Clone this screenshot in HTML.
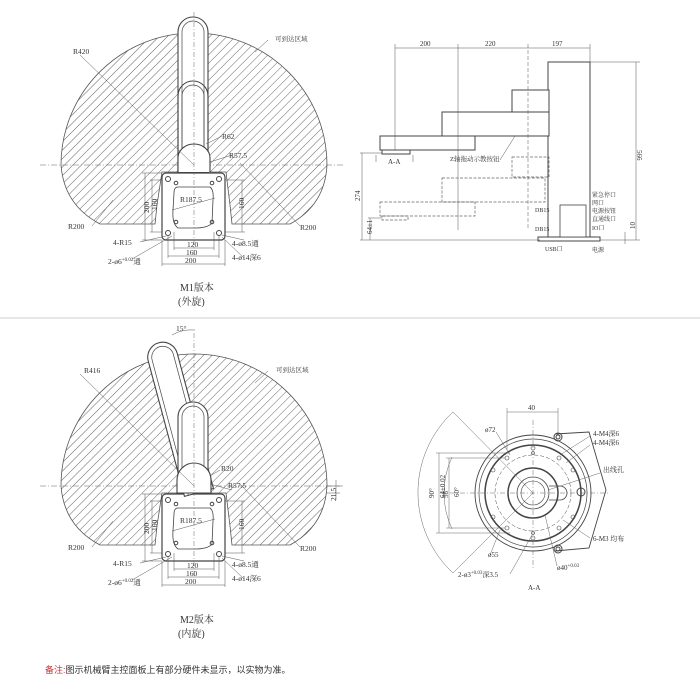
<!DOCTYPE html>
<html><head><meta charset="utf-8"><style>
html,body{margin:0;padding:0;background:#fff;}
svg{display:block;font-family:"Liberation Serif","Noto Serif CJK SC",serif;}
</style></head><body>
<svg width="700" height="698" viewBox="0 0 700 698" xmlns="http://www.w3.org/2000/svg">
<defs>
<pattern id="h" width="6" height="6" patternUnits="userSpaceOnUse" patternTransform="rotate(45)">
<rect width="6" height="6" fill="#fff"/><line x1="0" y1="0" x2="0" y2="6" stroke="#555" stroke-width="0.9"/></pattern>
<g id="zone">
<path d="M61,165 A133,132 0 0 1 327,165 Q325,205 290,224 L232,224 L230,205 L226,172 L162,172 L157,205 L155,224 L100,224 Q64,205 61,165 Z" fill="url(#h)" stroke="#555" stroke-width="0.8"/>
<line x1="40" y1="165" x2="345" y2="165" stroke="#666" stroke-width="0.6" stroke-dasharray="6,2,1,2"/>
<rect x="162" y="173" width="63" height="67" rx="4" fill="#fff" stroke="#444" stroke-width="1.2"/>
<path d="M178,187 L210,187 Q214,190 213,200 L212,223 Q208,228 195,228 L178,228 Q172,224 173,210 L174,193 Q174,187 178,187Z" fill="none" stroke="#444" stroke-width="0.8"/>
<circle cx="168" cy="179" r="2.5" fill="none" stroke="#444"/><circle cx="219" cy="179" r="2.5" fill="none" stroke="#444"/>
<circle cx="168" cy="233" r="2.5" fill="none" stroke="#444"/><circle cx="219" cy="233" r="2.5" fill="none" stroke="#444"/>
<circle cx="176" cy="183" r="1.8" fill="none" stroke="#444"/><circle cx="212" cy="183" r="1.8" fill="none" stroke="#444"/>
<circle cx="176" cy="222" r="1.8" fill="none" stroke="#444"/><circle cx="212" cy="222" r="1.8" fill="none" stroke="#444"/>
<line x1="194" y1="160" x2="194" y2="255" stroke="#666" stroke-width="0.5" stroke-dasharray="5,2,1,2"/>
<g stroke="#555" stroke-width="0.5" fill="none">
<line x1="142" y1="173" x2="162" y2="173"/><line x1="142" y1="240" x2="162" y2="240"/><line x1="145" y1="173" x2="145" y2="240"/>
<line x1="150" y1="180" x2="162" y2="180"/><line x1="150" y1="232" x2="162" y2="232"/><line x1="152" y1="180" x2="152" y2="232"/>
<line x1="225" y1="180" x2="245" y2="180"/><line x1="225" y1="232" x2="245" y2="232"/><line x1="242" y1="180" x2="242" y2="232"/>
<line x1="174" y1="232" x2="174" y2="250"/><line x1="214" y1="232" x2="214" y2="250"/><line x1="174" y1="248" x2="214" y2="248"/>
<line x1="168" y1="235" x2="168" y2="258"/><line x1="219" y1="235" x2="219" y2="258"/><line x1="168" y1="256" x2="219" y2="256"/>
<line x1="162" y1="240" x2="162" y2="266"/><line x1="225" y1="240" x2="225" y2="266"/><line x1="162" y1="264" x2="225" y2="264"/>
<line x1="172" y1="210" x2="215" y2="198"/>
<line x1="140" y1="242" x2="166" y2="236"/><line x1="132" y1="259" x2="172" y2="236"/>
<line x1="244" y1="240" x2="222" y2="235"/><line x1="244" y1="258" x2="222" y2="237"/>
<line x1="92" y1="226" x2="113" y2="200"/><line x1="300" y1="226" x2="240" y2="163"/>
</g>
<g font-size="7.5" fill="#333">
<text x="180" y="202">R187.5</text>
<text x="138" y="218" transform="rotate(-90 141 210)">200</text>
<text x="146" y="213" transform="rotate(-90 150 206)">160</text>
<text x="236" y="211" transform="rotate(-90 239 206)">160</text>
<text x="187" y="247">120</text><text x="186" y="255">160</text><text x="185" y="263">200</text>
<text x="113" y="245">4-R15</text>
<text x="232" y="246">4-ø8.5通</text><text x="232" y="260">4-ø14深6</text>
<text x="68" y="229">R200</text><text x="300" y="230">R200</text>
</g>
</g>
</defs>

<use href="#zone"/>
<g fill="#fff" stroke="#444" stroke-width="1.1">
<path d="M178,172 L178,32 A15,15 0 0 1 208,32 L208,172Z"/>
<path d="M182,172 L182,32 A11,11 0 0 1 204,32 L204,172" fill="none" stroke-width="0.7"/>
<path d="M178,172 L178,96 A15,15 0 0 1 208,96 L208,172" fill="none"/>
<path d="M182,172 L182,96 A11,11 0 0 1 204,96 L204,172" fill="none" stroke-width="0.7"/>
<path d="M178,172 L178,158 A16,14 0 0 1 210,158 L210,172" fill="#fff"/>
<line x1="194" y1="12" x2="194" y2="172" stroke="#666" stroke-width="0.5" stroke-dasharray="5,2,1,2"/>
</g>
<g stroke="#555" stroke-width="0.5"><line x1="80" y1="55" x2="194" y2="165"/><line x1="206" y1="144" x2="222" y2="136"/><line x1="210" y1="162" x2="232" y2="155"/><line x1="268" y1="40" x2="255" y2="52"/></g>
<g font-size="7.5" fill="#333"><text x="73" y="54">R420</text><text x="222" y="139">R62</text><text x="229" y="158">R57.5</text><text x="275" y="41" font-size="6.5">可到达区域</text>
<text x="108" y="264">2-ø6<tspan font-size="5" dy="-3">+0.02</tspan><tspan dy="3">通</tspan></text>
<text x="180" y="291" font-size="10">M1版本</text><text x="178" y="305" font-size="10">(外旋)</text></g>

<line x1="0" y1="318" x2="700" y2="318" stroke="#bbb" stroke-width="0.8"/>

<use href="#zone" transform="translate(0,321)"/>
<g fill="#fff" stroke="#444" stroke-width="1.1">
<g transform="rotate(-15 194 470)"><path d="M178,493 L178,353 A15,15 0 0 1 208,353 L208,493Z"/><path d="M182,493 L182,353 A11,11 0 0 1 204,353 L204,493" fill="none" stroke-width="0.7"/></g>
<path d="M178,493 L178,417 A15,15 0 0 1 208,417 L208,493Z"/>
<path d="M182,493 L182,417 A11,11 0 0 1 204,417 L204,493" fill="none" stroke-width="0.7"/>
<path d="M177,493 L177,480 A17,17 0 0 1 211,480 L211,493Z"/>
<line x1="194" y1="333" x2="194" y2="493" stroke="#666" stroke-width="0.5" stroke-dasharray="5,2,1,2"/>
</g>
<g stroke="#555" stroke-width="0.5" fill="none"><path d="M172,335 Q182,329 195,330"/><line x1="80" y1="374" x2="194" y2="486"/><line x1="210" y1="476" x2="220" y2="470"/><line x1="210" y1="484" x2="232" y2="490"/><line x1="268" y1="371" x2="255" y2="383"/>
<line x1="326" y1="486" x2="340" y2="486"/><line x1="326" y1="493" x2="340" y2="493"/><line x1="336" y1="480" x2="336" y2="500"/></g>
<g font-size="7.5" fill="#333"><text x="176" y="331">15°</text><text x="84" y="373">R416</text><text x="221" y="471">R20</text><text x="228" y="488">R57.5</text><text x="276" y="372" font-size="6.5">可到达区域</text>
<text x="340" y="505" transform="rotate(-90 336 505)">21.5</text>
<text x="108" y="585">2-ø6<tspan font-size="5" dy="-3">+0.02</tspan><tspan dy="3">通</tspan></text>
<text x="180" y="623" font-size="10">M2版本</text><text x="178" y="637" font-size="10">(内旋)</text></g>

<g stroke="#444" stroke-width="1" fill="#fff">
<rect x="548" y="62" width="42" height="176"/>
<rect x="512" y="90" width="37" height="22"/>
<rect x="442" y="112" width="107" height="24"/>
<rect x="380" y="136" width="95" height="14"/>
<rect x="382" y="150" width="28" height="4"/>
<rect x="538" y="237" width="62" height="4"/>
<rect x="560" y="205" width="26" height="32" stroke-width="0.8"/>
</g>
<g stroke="#666" stroke-width="0.7" fill="none" stroke-dasharray="3,1.5">
<rect x="512" y="157" width="37" height="20"/><rect x="442" y="178" width="103" height="24"/><rect x="380" y="202" width="95" height="14"/><rect x="382" y="216" width="26" height="4"/>
</g>
<g stroke="#555" stroke-width="0.5" fill="none">
<line x1="395" y1="44" x2="395" y2="150"/><line x1="458" y1="44" x2="458" y2="230"/><line x1="528" y1="44" x2="528" y2="230" stroke-dasharray="4,2"/><line x1="590" y1="44" x2="590" y2="62"/>
<line x1="395" y1="48" x2="590" y2="48"/>
<line x1="590" y1="62" x2="640" y2="62"/><line x1="600" y1="240" x2="640" y2="240"/><line x1="636" y1="62" x2="636" y2="240"/>
<line x1="360" y1="153" x2="382" y2="153"/><line x1="362" y1="153" x2="362" y2="240"/><line x1="360" y1="240" x2="540" y2="240"/>
<line x1="368" y1="218" x2="382" y2="218"/><line x1="370" y1="218" x2="370" y2="240"/>
<line x1="625" y1="232" x2="625" y2="244"/>
<path d="M376,155 L376,162 M413,155 L413,162"/>
<line x1="500" y1="160" x2="515" y2="136"/>
</g>
<g font-size="7" fill="#333">
<text x="420" y="46">200</text><text x="485" y="46">220</text><text x="552" y="46">197</text>
<text x="642" y="155" transform="rotate(90 642 150)">566</text>
<text x="352" y="203" transform="rotate(-90 355 198)">274</text>
<text x="362" y="236" transform="rotate(-90 366 230)">64±1</text>
<text x="628" y="230" transform="rotate(-90 631 226)">10</text>
<text x="388" y="164">A-A</text>
<text x="450" y="161" font-size="6.5">Z轴拖动示教按钮</text>
<text x="535" y="212" font-size="6">DB15</text><text x="535" y="231" font-size="6">DB15</text><text x="545" y="251" font-size="6">USB口</text>
<text x="592" y="197" font-size="6">紧急停口</text><text x="592" y="205" font-size="6">网口</text><text x="592" y="213" font-size="6">电源按钮</text><text x="592" y="221" font-size="6">直通线口</text><text x="592" y="230" font-size="6">IO口</text><text x="592" y="252" font-size="6">电源</text>
</g>

<g stroke="#444" fill="none">
<path d="M555,434 L589,432 L606,490 L589,548 L555,551" stroke-width="0.9"/>
<circle cx="533" cy="493" r="58" fill="#fff" stroke-width="0.9"/>
<circle cx="533" cy="493" r="54" stroke-width="0.7"/>
<circle cx="533" cy="493" r="48" stroke-width="1.5"/>
<circle cx="533" cy="493" r="38" stroke-width="0.5" stroke-dasharray="4,2"/>
<circle cx="533" cy="493" r="25" stroke-width="1.5"/>
<circle cx="533" cy="493" r="16" stroke-width="0.8"/>
<circle cx="533" cy="493" r="12" stroke-width="0.6"/>
<path d="M549,486 L560,486 A7,7 0 0 1 560,500 L549,500" stroke-width="0.8"/>
<circle cx="558" cy="437" r="4"/><circle cx="558" cy="437" r="2"/>
<circle cx="558" cy="549" r="4"/><circle cx="558" cy="549" r="2"/>
<circle cx="581" cy="492" r="4"/>
<g stroke-width="0.6"><circle cx="533" cy="448" r="2"/><circle cx="533" cy="538" r="2"/><circle cx="507" cy="458" r="2"/><circle cx="559" cy="458" r="2"/><circle cx="507" cy="528" r="2"/><circle cx="559" cy="528" r="2"/><circle cx="493" cy="470" r="2"/><circle cx="573" cy="470" r="2"/><circle cx="493" cy="517" r="2"/><circle cx="573" cy="517" r="2"/><circle cx="533" cy="453" r="1.5"/><circle cx="533" cy="533" r="1.5"/></g>
</g>
<g stroke="#666" stroke-width="0.5" fill="none">
<line x1="440" y1="493" x2="610" y2="493" stroke-dasharray="5,2,1,2"/><line x1="533" y1="420" x2="533" y2="570" stroke-dasharray="5,2,1,2"/>
<line x1="507" y1="408" x2="507" y2="450"/><line x1="558" y1="408" x2="558" y2="435"/><line x1="507" y1="412" x2="558" y2="412"/>
<line x1="436" y1="453" x2="510" y2="453"/><line x1="436" y1="533" x2="510" y2="533"/><line x1="439" y1="453" x2="439" y2="533"/>
<line x1="446" y1="458" x2="505" y2="458"/><line x1="446" y1="528" x2="505" y2="528"/><line x1="449" y1="458" x2="449" y2="528"/>
<path d="M452,457 A85,85 0 0 0 452,529"/>
<path d="M453,412 A110,110 0 0 0 453,573"/><line x1="453" y1="412" x2="533" y2="493"/><line x1="453" y1="573" x2="533" y2="493"/>
<line x1="590" y1="436" x2="560" y2="455"/><line x1="590" y1="445" x2="566" y2="463"/><line x1="600" y1="473" x2="548" y2="490"/><line x1="590" y1="538" x2="563" y2="520"/>
<line x1="490" y1="555" x2="500" y2="530"/><line x1="510" y1="574" x2="532" y2="535"/><line x1="557" y1="566" x2="545" y2="515"/><line x1="496" y1="432" x2="510" y2="455"/>
</g>
<g font-size="7" fill="#333">
<text x="528" y="410">40</text><text x="485" y="432">ø72</text>
<text x="593" y="436">4-M4深6</text><text x="593" y="445">4-M4深6</text><text x="603" y="472">出线孔</text><text x="593" y="541">6-M3 均布</text>
<text x="488" y="557">ø55</text><text x="458" y="577">2-ø3<tspan font-size="5" dy="-3">+0.03</tspan><tspan dy="3">深3.5</tspan></text>
<text x="557" y="570">ø40<tspan font-size="5" dy="-3">+0.03</tspan></text>
<text x="528" y="590">A-A</text>
<text x="424" y="500" transform="rotate(-90 428 494)">90°</text>
<text x="430" y="505" transform="rotate(-90 434 494)">64±0.02</text>
<text x="441" y="497" transform="rotate(-90 445 494)">56</text>
<text x="453" y="497" transform="rotate(-90 456 494)">60°</text>
</g>

<text x="45" y="673" font-size="9" fill="#c33" font-family="Liberation Sans,Noto Sans CJK SC,sans-serif">备注:<tspan fill="#333">图示机械臂主控面板上有部分硬件未显示，以实物为准。</tspan></text>
</svg>
</body></html>
